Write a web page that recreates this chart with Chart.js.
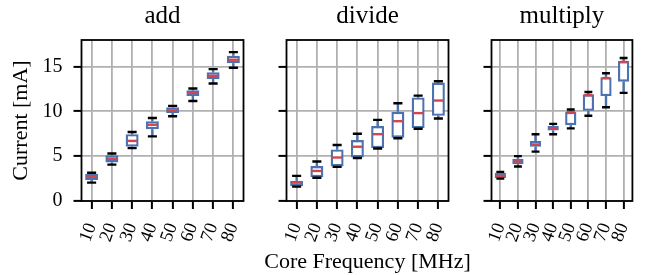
<!DOCTYPE html>
<html>
<head>
<meta charset="utf-8">
<script src="https://cdn.jsdelivr.net/npm/chart.js@4.4.1/dist/chart.umd.min.js"></script>
<style>
  body { margin: 0; background: #fff; }
  #wrap { position: relative; width: 657px; height: 275px; }
  #wrap canvas { position: absolute; left: 0; top: 0; }
</style>
</head>
<body>
<div id="wrap">
  <canvas id="addChart" width="657" height="275"></canvas>
  <canvas id="divideChart" width="657" height="275"></canvas>
  <canvas id="multiplyChart" width="657" height="275"></canvas>
</div>
<script>
// categories and tick labels
const frequencies = ['10', '20', '30', '40', '50', '60', '70', '80'];
const yTicks = [0, 5, 10, 15];

// add
const addMin = [2.05, 4.05, 5.9, 7.2, 9.45, 11.15, 13.1, 14.85];
const addQ1 = [2.35, 4.3, 6.05, 8.0, 9.8, 11.7, 13.6, 15.35];
const addMed = [2.7, 4.7, 6.7, 8.5, 10.1, 12.05, 13.95, 15.75];
const addQ3 = [3.0, 5.1, 7.45, 8.9, 10.45, 12.35, 14.35, 16.2];
const addMax = [3.15, 5.3, 7.7, 9.25, 10.6, 12.55, 14.7, 16.6];

// divide
const divMin = [1.6, 2.6, 3.8, 4.8, 5.85, 7.0, 8.05, 9.2];
const divQ1 = [1.65, 2.65, 3.85, 4.85, 5.9, 7.05, 8.1, 9.5];
const divMed = [2.05, 3.35, 4.85, 6.05, 7.45, 8.9, 9.8, 11.2];
const divQ3 = [2.25, 3.9, 5.75, 6.8, 8.35, 9.95, 11.55, 13.2];
const divMax = [2.8, 4.4, 6.25, 7.5, 9.05, 10.9, 11.75, 13.35];

// multiply
const mulMin = [2.5, 3.85, 5.5, 7.45, 8.1, 9.5, 10.45, 12.05];
const mulQ1 = [2.55, 4.1, 6.05, 7.85, 8.45, 10.05, 11.7, 13.3];
const mulMed = [2.8, 4.4, 6.3, 8.1, 9.9, 11.8, 13.7, 15.5];
const mulQ3 = [3.15, 4.7, 6.7, 8.35, 9.95, 11.9, 13.8, 15.6];
const mulMax = [3.25, 5.0, 7.45, 8.6, 10.2, 12.15, 14.25, 15.95];

const boxColor = '#4c72b0';
const medianColor = '#d1464f';
const gridColor = '#b0b0b0';
const serif = 'Liberation Serif';
const lw = 2.4;

Chart.defaults.font.family = serif;
Chart.defaults.color = '#000';

// whiskers, caps and medians on top of the floating bars
const boxParts = {
  id: 'boxParts',
  afterDatasetsDraw(chart, args, opts) {
    const {ctx, scales: {x, y}} = chart;
    const s = opts.stats;
    const bars = chart.getDatasetMeta(0).data;
    ctx.save();
    ctx.lineCap = 'butt';
    ctx.lineWidth = lw;
    bars.forEach((bar, i) => {
      const cx = x.getPixelForValue(i);
      const half = bar.width / 2;
      ctx.strokeStyle = boxColor;
      ctx.beginPath();
      ctx.moveTo(cx, y.getPixelForValue(s.q3[i]));
      ctx.lineTo(cx, y.getPixelForValue(s.max[i]));
      ctx.moveTo(cx, y.getPixelForValue(s.q1[i]));
      ctx.lineTo(cx, y.getPixelForValue(s.min[i]));
      ctx.stroke();

      ctx.strokeStyle = '#000';
      ctx.beginPath();
      [s.min[i], s.max[i]].forEach(v => {
        const py = y.getPixelForValue(v);
        ctx.moveTo(cx - half * 0.7, py);
        ctx.lineTo(cx + half * 0.7, py);
      });
      ctx.stroke();

      ctx.strokeStyle = medianColor;
      ctx.beginPath();
      const my = y.getPixelForValue(s.med[i]);
      ctx.moveTo(cx - half + 1.5, my);
      ctx.lineTo(cx + half - 1.5, my);
      ctx.stroke();
    });
    ctx.restore();
  }
};

// black frame round the plot area
const frame = {
  id: 'frame',
  beforeDatasetsDraw(chart) {
    const {ctx, chartArea: a} = chart;
    ctx.save();
    ctx.strokeStyle = '#000';
    ctx.lineWidth = 1.8;
    ctx.strokeRect(a.left, a.top, a.right - a.left, a.bottom - a.top);
    ctx.restore();
  }
};

// axis labels, drawn without the scale title's width limit
const axisLabels = {
  id: 'axisLabels',
  afterDraw(chart, args, opts) {
    const {ctx, chartArea: a} = chart;
    ctx.save();
    ctx.fillStyle = '#000';
    ctx.font = '22px "' + serif + '"';
    ctx.textAlign = 'center';
    ctx.textBaseline = 'middle';
    if (opts.x) {
      ctx.fillText(opts.x, (a.left + a.right) / 2, 262);
    }
    if (opts.y) {
      ctx.translate(21.5, (a.top + a.bottom) / 2);
      ctx.rotate(-Math.PI / 2);
      ctx.fillText(opts.y, 0, 0);
    }
    ctx.restore();
  }
};

const panels = [
  {id: 'addChart', title: 'add', left: 81.5, yWidth: 81.5, showY: true, xLabel: null, yLabel: 'Current [mA]',
    stats: {min: addMin, q1: addQ1, med: addMed, q3: addQ3, max: addMax}},
  {id: 'divideChart', title: 'divide', left: 286.5, yWidth: 12, showY: false, xLabel: 'Core Frequency [MHz]', yLabel: null,
    stats: {min: divMin, q1: divQ1, med: divMed, q3: divQ3, max: divMax}},
  {id: 'multiplyChart', title: 'multiply', left: 491.5, yWidth: 12, showY: false, xLabel: null, yLabel: null,
    stats: {min: mulMin, q1: mulQ1, med: mulMed, q3: mulQ3, max: mulMax}},
];

const plotWidth = 162;

panels.forEach(p => {
  new Chart(document.getElementById(p.id), {
    type: 'bar',
    data: {
      labels: frequencies,
      datasets: [{
        data: p.stats.q1.map((v, i) => [v, p.stats.q3[i]]),
        backgroundColor: '#fff',
        borderColor: boxColor,
        borderWidth: lw,
        borderSkipped: false,
        barPercentage: 0.64,
        categoryPercentage: 1.0,
      }],
    },
    plugins: [frame, boxParts, axisLabels],
    options: {
      responsive: false,
      devicePixelRatio: 1,
      animation: false,
      events: [],
      layout: {
        padding: {left: p.left - p.yWidth, right: 657 - p.left - plotWidth, top: 0, bottom: 0},
      },
      plugins: {
        legend: {display: false},
        tooltip: {enabled: false},
        title: {
          display: true,
          text: p.title,
          fullSize: false,
          font: {family: serif, size: 25, weight: 'normal'},
          color: '#000',
          padding: {top: 1.6, bottom: 8.4},
        },
        boxParts: {stats: p.stats},
        axisLabels: {x: p.xLabel, y: p.yLabel},
      },
      scales: {
        x: {
          offset: true,
          grid: {
            offset: false,
            color: gridColor,
            lineWidth: 1.8,
            tickColor: '#000',
            tickWidth: 2,
            tickLength: 8,
          },
          border: {display: false},
          ticks: {
            autoSkip: false,
            minRotation: 70,
            maxRotation: 70,
            padding: 11,
            font: {family: serif, size: 18.5},
          },
          afterFit: s => { s.height = 74; },
        },
        y: {
          min: 0,
          max: 17.95,
          grid: {
            color: gridColor,
            lineWidth: 1.8,
            tickColor: '#000',
            tickWidth: 2,
            tickLength: 8,
          },
          border: {display: false},
          afterBuildTicks: s => { s.ticks = yTicks.map(v => ({value: v})); },
          ticks: {
            display: p.showY,
            padding: 11,
            font: {family: serif, size: 20},
          },
          afterFit: s => { s.width = p.yWidth; },
        },
      },
    },
  });
});
</script>
</body>
</html>
